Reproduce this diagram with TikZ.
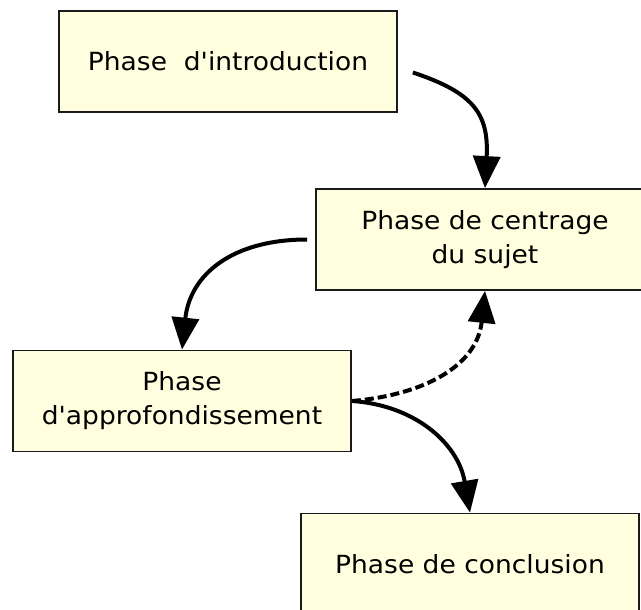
\documentclass[tikz,border=0pt]{standalone}
\usepackage{fontspec}
\newfontfamily\boxfont{DejaVu Sans}[FakeStretch=1.06]
\usetikzlibrary{arrows.meta}
\definecolor{boxfill}{HTML}{FFFFE0}
\definecolor{boxline}{HTML}{1A1A1A}
\tikzset{
  phasebox/.style={draw=boxline, line width=1.8pt, fill=boxfill,
    minimum width=338pt, minimum height=101pt, align=center,
    font=\boxfont\fontsize{25}{34}\selectfont, inner sep=0pt},
  conn/.style={line width=4pt, -{Triangle[length=32pt,width=27pt]}},
  dashconn/.style={conn, dash pattern=on 9pt off 4pt}
}
\begin{document}
\begin{tikzpicture}[x=1pt,y=-1pt]
\useasboundingbox (0,0) rectangle (641,610);
\clip (0,0) rectangle (641,610);
\fill[white] (0,0) rectangle (641,610);
\node[phasebox] (n1) at (228,61.5) {Phase\ \ d'introduction};
\node[phasebox] (n2) at (485,239.5) {Phase de centrage\\du sujet};
\node[phasebox] (n3) at (182,401) {Phase\\d'approfondissement};
\node[phasebox] (n4) at (470,564) {Phase de conclusion};
\draw[conn] ([shift={(15,11)}]n1.east) .. controls +(60,20) and +(4,-75) .. (n2.north);
\draw[conn] ([xshift=-8pt]n2.west) .. controls +(-75,0) and +(8,-75) .. (n3.north);
\draw[conn] (n3.east) .. controls +(62,4) and +(-12,-70) .. (n4.north);
\draw[dashconn] (n3.east) .. controls +(72,-6) and +(-8,75) .. (n2.south);
\end{tikzpicture}
\end{document}
